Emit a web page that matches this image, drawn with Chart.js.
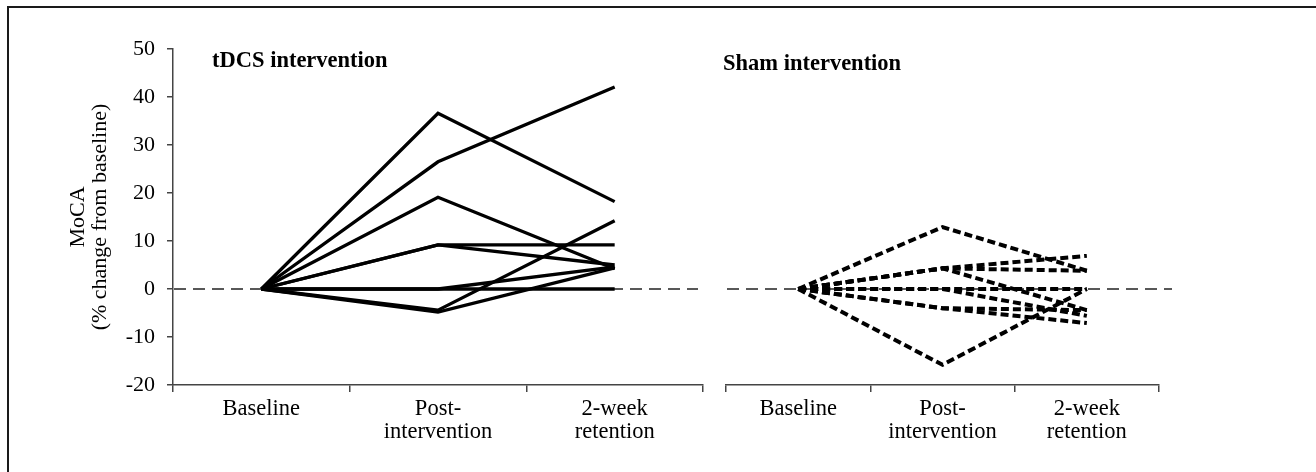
<!DOCTYPE html>
<html>
<head>
<meta charset="utf-8">
<script src="https://cdn.jsdelivr.net/npm/chart.js@4.4.0/dist/chart.umd.min.js"></script>
<style>
  html, body { margin: 0; padding: 0; background: #fff; }
  body { width: 1316px; height: 472px; position: relative; overflow: hidden; }
  #frame { position: absolute; left: 7px; top: 6px; width: 1330px; height: 520px; border: 2px solid #1a1a1a; box-sizing: border-box; }
  .box { position: absolute; top: 0; height: 472px; }
  #leftBox { left: 0; width: 720px; }
  #rightBox { left: 712px; width: 604px; }
</style>
</head>
<body>
<div id="frame"></div>
<div class="box" id="leftBox"><canvas id="tdcsChart"></canvas></div>
<div class="box" id="rightBox"><canvas id="shamChart"></canvas></div>
<script>
// x categories
const categories = ['Baseline', ['Post-', 'intervention'], ['2-week', 'retention']];

// y ticks
const yMin = -20;
const yMax = 50;
const yStep = 10;

// tDCS group, % change per participant (baseline, post, 2-week)
const tdcsLines = [
  [0, 36.6, 18.2],
  [0, 26.5, 42.1],
  [0, 19.1, 4.2],
  [0, 9.2, 9.2],
  [0, 9.2, 5.0],
  [0, 0, 0],
  [0, 0, 4.6],
  [0, -4.4, 14.2],
  [0, -4.8, 4.4]
];

// sham group
const shamLines = [
  [0, 12.9, 3.8],
  [0, 4.3, 6.9],
  [0, 4.3, 3.8],
  [0, 4.3, -4.4],
  [0, 0, 0],
  [0, 0, -5.6],
  [0, -4.0, -4.4],
  [0, -4.0, -7.1],
  [0, -15.8, 0]
];

const serif = '"Liberation Serif", "Times New Roman", serif';
const axisColor = '#444';
const textColor = '#000';

// dashed reference line at 0
const zeroLine = {
  id: 'zeroLine',
  beforeDatasetsDraw(chart, args, opts) {
    const {ctx, chartArea, scales: {y}} = chart;
    const yy = y.getPixelForValue(0);
    ctx.save();
    ctx.strokeStyle = '#222';
    ctx.lineWidth = 1.5;
    ctx.setLineDash([12, 7]);
    ctx.beginPath();
    ctx.moveTo(chartArea.left + (opts.start || 0), yy);
    ctx.lineTo(chartArea.right + (opts.extend || 0), yy);
    ctx.stroke();
    ctx.restore();
  }
};

// bold panel heading
const panelTitle = {
  id: 'panelTitle',
  afterDraw(chart, args, opts) {
    const {ctx, chartArea} = chart;
    ctx.save();
    ctx.font = 'bold 22.5px ' + serif;
    ctx.fillStyle = textColor;
    ctx.textBaseline = 'alphabetic';
    ctx.textAlign = 'left';
    ctx.fillText(opts.text, chartArea.left + opts.dx, opts.y);
    ctx.restore();
  }
};

function makeChart(id, lines, dashed, showY, padding, titleOpts, zeroOpts) {
  const datasets = lines.map(vals => ({
    data: vals,
    borderColor: '#000',
    borderWidth: dashed ? 4 : 3.3,
    borderDash: dashed ? [8, 4] : [],
    borderJoinStyle: 'miter',
    pointRadius: 0,
    fill: false,
    tension: 0
  }));

  return new Chart(document.getElementById(id).getContext('2d'), {
    type: 'line',
    data: { labels: categories, datasets: datasets },
    options: {
      responsive: true,
      maintainAspectRatio: false,
      devicePixelRatio: 1,
      animation: false,
      layout: { padding: padding },
      plugins: {
        legend: { display: false },
        tooltip: { enabled: false },
        zeroLine: zeroOpts,
        panelTitle: titleOpts
      },
      scales: {
        x: {
          type: 'category',
          offset: true,
          grid: { offset: true, drawOnChartArea: false, drawTicks: true, tickLength: 7, color: axisColor, lineWidth: 1.5 },
          border: { display: true, color: axisColor, width: 1.5 },
          ticks: { font: { family: serif, size: 22.5, lineHeight: 1.05 }, color: textColor, padding: 5, maxRotation: 0, autoSkip: false },
          afterFit: s => { s.height = 70; }
        },
        y: {
          display: showY,
          min: yMin,
          max: yMax,
          ticks: { stepSize: yStep, padding: 12, font: { family: serif, size: 22 }, color: textColor },
          grid: { drawOnChartArea: false, tickLength: 6, color: axisColor, lineWidth: 1.5 },
          border: { display: true, color: axisColor, width: 1.5 },
          title: {
            display: true,
            text: ['MoCA', '(% change from baseline)'],
            font: { family: serif, size: 22, lineHeight: 1.0 },
            color: textColor,
            padding: { top: 67, bottom: 0 }
          },
          afterFit: s => { s.width = showY ? 173 : 0; }
        }
      }
    },
    plugins: [zeroLine, panelTitle]
  });
}

makeChart('tdcsChart', tdcsLines, false, true,
  { left: 0, top: 49, right: 17, bottom: 17 },
  { text: 'tDCS intervention', dx: 39, y: 67 },
  { start: 1, extend: -5 });

makeChart('shamChart', shamLines, true, false,
  { left: 14, top: 49, right: 157, bottom: 17 },
  { text: 'Sham intervention', dx: -3, y: 70 },
  { start: 1, extend: 13 });
</script>
</body>
</html>
